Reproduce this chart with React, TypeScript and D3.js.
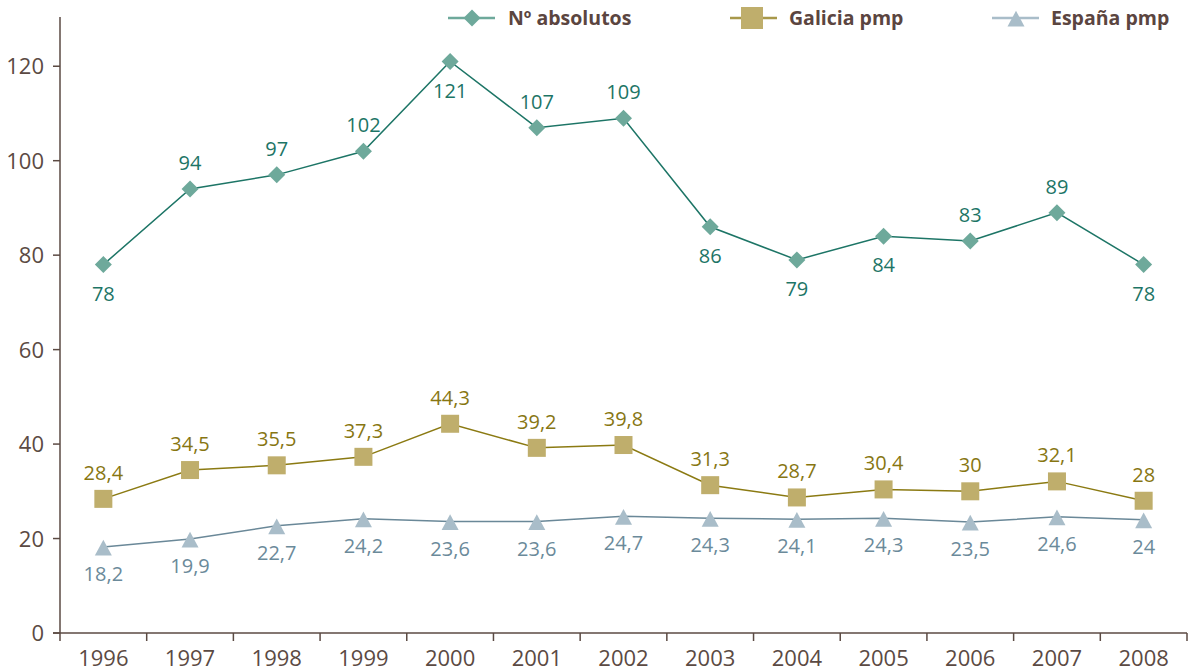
import React from "react";
import * as d3 from "d3";

const years = ["1996","1997","1998","1999","2000","2001","2002","2003","2004","2005","2006","2007","2008"];
const absolutos = [78, 94, 97, 102, 121, 107, 109, 86, 79, 84, 83, 89, 78];
const galicia = [28.4, 34.5, 35.5, 37.3, 44.3, 39.2, 39.8, 31.3, 28.7, 30.4, 30, 32.1, 28];
const espana = [18.2, 19.9, 22.7, 24.2, 23.6, 23.6, 24.7, 24.3, 24.1, 24.3, 23.5, 24.6, 24];
const absLabelPos = ["below","above","above","above","below","above","above","below","below","below","above","above","below"];
const yTicks = [0, 20, 40, 60, 80, 100, 120];

const W = 1198, H = 672;
const left = 60, right = 1187, top = 19, bottom = 633;
const axisColor = "#5b4a43";
const font = "'Open Sans', sans-serif";

const fmt = (v: number) => String(v).replace(".", ",");

export default function App() {
  const x = d3.scaleBand<string>().domain(years).range([left, right]);
  const y = d3.scaleLinear().domain([0, 130]).range([bottom, top]);
  const cx = (d: string) => (x(d) as number) + x.bandwidth() / 2;
  const line = d3.line<number>().x((_, i) => cx(years[i])).y((v) => y(v));

  const diamond = (px: number, py: number, r: number) =>
    `M${px},${py - r}L${px + r},${py}L${px},${py + r}L${px - r},${py}Z`;
  const tri = (px: number, py: number, r: number) =>
    `M${px},${py - r * 0.85}L${px + r},${py + r}L${px - r},${py + r}Z`;

  const c1l = "#1d7566", c1m = "#6ea99b";
  const c2l = "#8b7a12", c2m = "#bfae6c", c2t = "#877612";
  const c3l = "#6a8898", c3m = "#a9bdc9", c3t = "#6b8a9a";

  const boundaries = years.map((d) => x(d) as number).concat([right]);

  return (
    <svg width={W} height={H} style={{ position: "absolute", left: 0, top: 0 }} fontFamily={font}>
      {/* axes */}
      <line x1={left} y1={top - 2} x2={left} y2={bottom} stroke={axisColor} strokeWidth={1.5} />
      <line x1={left - 7} y1={bottom} x2={right} y2={bottom} stroke={axisColor} strokeWidth={1.5} />
      {yTicks.map((t) => (
        <g key={t}>
          <line x1={left - 7} x2={left} y1={y(t)} y2={y(t)} stroke={axisColor} strokeWidth={1.5} />
          <text x={44} y={y(t) + 8} textAnchor="end" fontSize={22} fill={axisColor}>{t}</text>
        </g>
      ))}
      {boundaries.map((b, i) => (
        <line key={i} x1={b} x2={b} y1={bottom} y2={bottom + 8} stroke={axisColor} strokeWidth={1.5} />
      ))}
      {years.map((d) => (
        <text key={d} x={cx(d)} y={bottom + 33} textAnchor="middle" fontSize={22} fill={axisColor}>{d}</text>
      ))}

      {/* España */}
      <path d={line(espana) as string} fill="none" stroke={c3l} strokeWidth={1.5} />
      {espana.map((v, i) => (
        <g key={i}>
          <path d={tri(cx(years[i]), y(v), 8.5)} fill={c3m} />
          <text x={cx(years[i])} y={y(v) + 34} textAnchor="middle" fontSize={20} fill={c3t}>{fmt(v)}</text>
        </g>
      ))}

      {/* Galicia */}
      <path d={line(galicia) as string} fill="none" stroke={c2l} strokeWidth={1.5} />
      {galicia.map((v, i) => (
        <g key={i}>
          <rect x={cx(years[i]) - 9} y={y(v) - 9} width={18} height={18} fill={c2m} />
          <text x={cx(years[i])} y={y(v) - 19} textAnchor="middle" fontSize={20} fill={c2t}>{fmt(v)}</text>
        </g>
      ))}

      {/* Nº absolutos */}
      <path d={line(absolutos) as string} fill="none" stroke={c1l} strokeWidth={1.5} />
      {absolutos.map((v, i) => (
        <g key={i}>
          <path d={diamond(cx(years[i]), y(v), 8.5)} fill={c1m} />
          <text x={cx(years[i])} y={absLabelPos[i] === "above" ? y(v) - 19 : y(v) + 36} textAnchor="middle" fontSize={20} fill={c1l}>{fmt(v)}</text>
        </g>
      ))}

      {/* legend */}
      <g fontWeight={700} fontSize={19.5} fill="#5b4540">
        <line x1={448} x2={495} y1={18} y2={18} stroke={c1m} strokeWidth={2.5} />
        <path d={diamond(472, 18, 8.5)} fill={c1m} />
        <text x={508} y={25}>Nº absolutos</text>

        <line x1={730} x2={777} y1={18} y2={18} stroke="#a8984a" strokeWidth={2.5} />
        <rect x={741} y={7} width={22} height={22} fill={c2m} />
        <text x={789} y={25}>Galicia pmp</text>

        <line x1={992} x2={1039} y1={18} y2={18} stroke={c3m} strokeWidth={2.5} />
        <path d={tri(1016, 18, 8.5)} fill={c3m} />
        <text x={1051} y={25}>España pmp</text>
      </g>
    </svg>
  );
}
